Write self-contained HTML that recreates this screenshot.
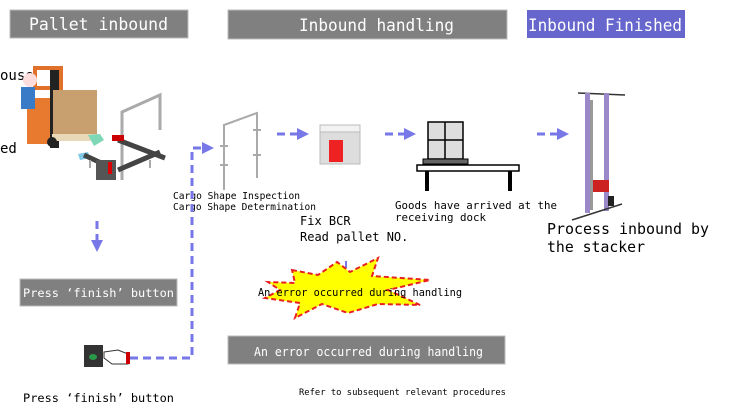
<!DOCTYPE html>
<html><head><meta charset="utf-8"><style>
html,body{margin:0;padding:0;background:#fff;width:750px;height:419px;overflow:hidden}
svg text{font-family:"DejaVu Sans Mono","Liberation Mono",monospace}
</style></head><body>
<svg width="750" height="419" viewBox="0 0 750 419" xmlns="http://www.w3.org/2000/svg">
<defs>
<marker id="ah" markerWidth="4" markerHeight="4" refX="2" refY="2" orient="auto" markerUnits="strokeWidth"><path d="M0,0 L4,2 L0,4z" fill="#7777e8"/></marker>
</defs>
<!-- headers -->
<rect x="10" y="10" width="178" height="28" fill="#808080" stroke="#bbb"/>
<text x="29" y="30" font-size="17" fill="#fff" textLength="139" lengthAdjust="spacingAndGlyphs">Pallet inbound</text>
<rect x="228" y="10" width="279" height="29" fill="#808080" stroke="#bbb"/>
<text x="299" y="31" font-size="17" fill="#fff" textLength="155" lengthAdjust="spacingAndGlyphs">Inbound handling</text>
<rect x="527" y="10" width="158" height="28" fill="#6666cc"/>
<text x="528" y="31" font-size="17" fill="#fff" textLength="154" lengthAdjust="spacingAndGlyphs">Inbound Finished</text>

<!-- left text fragments -->
<text x="0" y="80" font-size="14" fill="#000">ouse</text>
<text x="0" y="153" font-size="14" fill="#000">ed</text>

<!-- forklift -->
<rect x="35" y="68" width="26" height="20" fill="none" stroke="#e0702a" stroke-width="4"/>
<rect x="27" y="98" width="26" height="46" fill="#e87a30"/>
<circle cx="30" cy="80" r="7" fill="#fdd"/>
<rect x="21" y="87" width="14" height="22" fill="#3a7bc8"/>
<rect x="50" y="70" width="9" height="78" fill="#222"/>
<rect x="53" y="90" width="44" height="44" fill="#c8a070"/>
<rect x="52" y="134" width="46" height="7" fill="#e8d8b8"/>
<circle cx="52" cy="142" r="5" fill="#222"/>
<path d="M88,135 L100,134 L104,140 L94,146z" fill="#7ed8b8"/>
<path d="M78,154 L88,152 L90,158 L80,160z" fill="#7ec8e8"/>
<!-- gate 1 + conveyor -->
<path d="M122,180 L122,112 L160,95 L160,130" fill="none" stroke="#aaa" stroke-width="3"/>
<path d="M118,140 L165,158 M84,155 L112,168 M118,170 L160,152" stroke="#444" stroke-width="5"/>
<rect x="96" y="160" width="20" height="20" fill="#555"/>
<rect x="108" y="162" width="4" height="12" fill="#d00"/>
<rect x="112" y="135" width="12" height="6" fill="#c00"/>
<path d="M90,160v8 M150,160v8" stroke="#aaa" stroke-width="2"/>
<!-- gate 2 -->
<path d="M224,190 L224,125 L257,113 L257,178" fill="none" stroke="#aaa" stroke-width="2"/>
<path d="M220,146h8 M220,165h8 M253,130h8 M253,155h8" stroke="#aaa" stroke-width="2"/>
<text x="173" y="199" font-size="9.5" fill="#000" textLength="127" lengthAdjust="spacingAndGlyphs">Cargo Shape Inspection</text>
<text x="173" y="210" font-size="9.5" fill="#000" textLength="143" lengthAdjust="spacingAndGlyphs">Cargo Shape Determination</text>

<!-- BCR -->
<rect x="320" y="130" width="40" height="34" fill="#ddd" stroke="#bbb"/>
<rect x="320" y="125" width="40" height="7" fill="#f2f2f2" stroke="#bbb"/>
<rect x="329" y="140" width="14" height="22" fill="#e22"/>
<text x="300" y="225" font-size="12" fill="#000">Fix BCR</text>
<text x="300" y="241" font-size="12" fill="#000">Read pallet NO.</text>

<!-- dock -->
<rect x="428" y="122" width="35" height="37" fill="#ddd" stroke="#000" stroke-width="1.5"/>
<path d="M445,122v37 M428,140h35" stroke="#000" stroke-width="1.5"/>
<rect x="423" y="159" width="45" height="5" fill="#666" stroke="#000"/>
<rect x="417" y="165" width="102" height="6" fill="#fff" stroke="#000" stroke-width="1.5"/>
<path d="M427,171v20 M510,171v20" stroke="#000" stroke-width="4"/>
<text x="395" y="209" font-size="11" fill="#000" textLength="162" lengthAdjust="spacingAndGlyphs">Goods have arrived at the</text>
<text x="395" y="221" font-size="11" fill="#000" textLength="91" lengthAdjust="spacingAndGlyphs">receiving dock</text>

<!-- stacker -->
<path d="M578,93 L625,95" stroke="#333" stroke-width="1.5"/>
<rect x="585" y="93" width="5" height="120" fill="#9a88c8"/>
<rect x="604" y="93" width="5" height="118" fill="#9a88c8"/>
<rect x="590" y="100" width="3" height="110" fill="#999"/>
<path d="M572,220 L622,204" stroke="#333" stroke-width="1.5"/>
<rect x="593" y="180" width="16" height="12" fill="#c22"/>
<rect x="608" y="196" width="6" height="10" fill="#222"/>
<text x="547" y="234" font-size="15" fill="#000" textLength="162" lengthAdjust="spacingAndGlyphs">Process inbound by</text>
<text x="547" y="252" font-size="15" fill="#000" textLength="98" lengthAdjust="spacingAndGlyphs">the stacker</text>

<!-- arrows -->
<g stroke="#7777e8" stroke-width="3" stroke-dasharray="8,5" fill="none">
<path d="M277,134 L303,134" marker-end="url(#ah)"/>
<path d="M385,134 L410,134" marker-end="url(#ah)"/>
<path d="M537,134 L563,134" marker-end="url(#ah)"/>
<path d="M97,221 L97,246" marker-end="url(#ah)"/>
<path d="M130,358 L192,358 L192,148 L208,148" marker-end="url(#ah)"/>
</g>
<path d="M346,261v7" stroke="#7777e8" stroke-width="2"/>

<!-- starburst -->
<polygon points="292,270 318,275 337,262 350,272 378,258 372,276 430,280 388,290 420,305 378,304 348,313 322,304 295,318 300,303 265,298 280,290 268,282 295,283" fill="#ffff00" stroke="#e82020" stroke-width="2" stroke-dasharray="5,3"/>
<text x="258" y="296" font-size="11" fill="#000" textLength="204" lengthAdjust="spacingAndGlyphs">An error occurred during handling</text>

<!-- press finish -->
<rect x="20" y="279" width="157" height="27" fill="#808080" stroke="#bbb"/>
<text x="23" y="297" font-size="11.5" fill="#fff" textLength="151" lengthAdjust="spacingAndGlyphs">Press ‘finish’ button</text>
<rect x="84" y="345" width="19" height="22" fill="#333"/>
<ellipse cx="93" cy="357" rx="4" ry="3" fill="#2a9a4a"/>
<path d="M104,352 L118,350 L128,354 L128,364 L112,364 L104,358z" fill="#fff" stroke="#333"/>
<rect x="126" y="352" width="4" height="12" fill="#c00"/>
<text x="23" y="402" font-size="11.5" fill="#000" textLength="151" lengthAdjust="spacingAndGlyphs">Press ‘finish’ button</text>

<!-- error box -->
<rect x="228" y="336" width="277" height="28" fill="#808080" stroke="#bbb"/>
<text x="254" y="356" font-size="12" fill="#fff" textLength="229" lengthAdjust="spacingAndGlyphs">An error occurred during handling</text>
<text x="299" y="395" font-size="9" fill="#000" textLength="207" lengthAdjust="spacingAndGlyphs">Refer to subsequent relevant procedures</text>
</svg>
</body></html>
